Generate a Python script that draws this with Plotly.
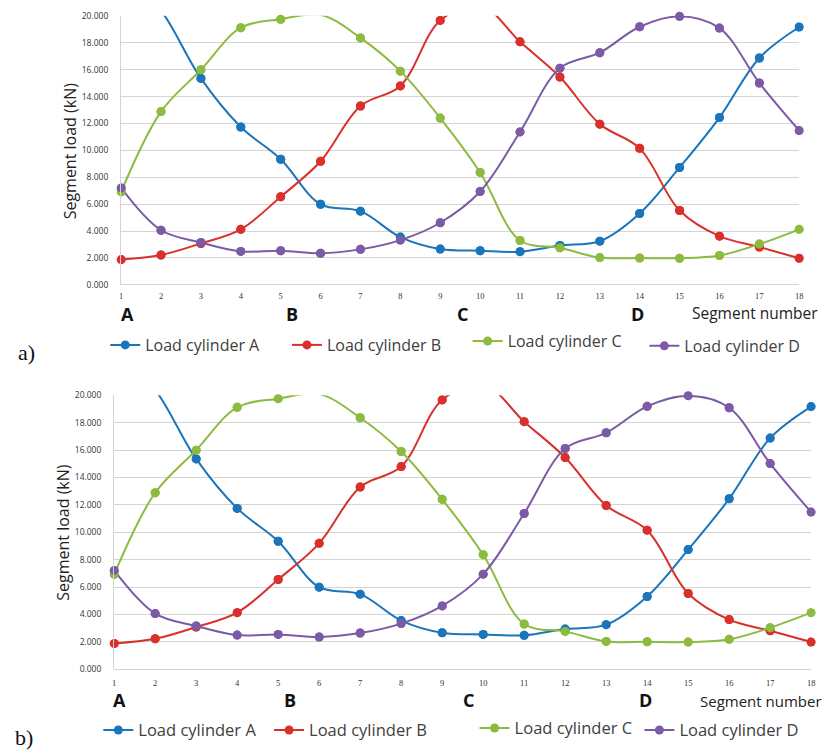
import plotly.graph_objects as go

segments = list(range(1, 19))
load_a = [23.5, 20.4, 15.35, 11.74, 9.34, 5.99, 5.48, 3.55, 2.66, 2.54, 2.47, 2.93, 3.25, 5.31, 8.73, 12.44, 16.87, 19.17]
load_b = [1.88, 2.22, 3.08, 4.13, 6.55, 9.19, 13.30, 14.79, 19.66, 20.8, 18.07, 15.45, 11.95, 10.15, 5.53, 3.62, 2.81, 1.98]
load_c = [6.92, 12.88, 15.99, 19.12, 19.75, 20.08, 18.36, 15.89, 12.40, 8.36, 3.30, 2.76, 2.03, 2.00, 1.98, 2.18, 3.03, 4.13]
load_d = [7.21, 4.06, 3.15, 2.49, 2.54, 2.35, 2.64, 3.33, 4.62, 6.94, 11.37, 16.11, 17.26, 19.19, 19.97, 19.09, 15.01, 11.47]
series_names = ["Load cylinder A", "Load cylinder B", "Load cylinder C", "Load cylinder D"]
y_ticks = [0, 2, 4, 6, 8, 10, 12, 14, 16, 18, 20]
section_labels = ["A", "B", "C", "D"]

colors = ["#1B75BB", "#D9302C", "#8CBB3F", "#7B5BA5"]
W, H = 838, 755
FONT = "Open Sans"

fig = go.Figure()
all_series = [load_a, load_b, load_c, load_d]

panels = [
    # (xaxis, yaxis, left px, right px, top px, bottom px, tick standoff)
    ("x", "y", 120, 803, 10, 283, 5),
    ("x2", "y2", 113, 815, 395, 673, 7),
]
# legend item positions (icon start px, centre y px) for each panel
legend_pos = [
    [(115, 344), (298, 344), (480, 340), (658, 345)],
    [(108, 735), (280, 735), (487, 733), (653, 735)],
]

layout = dict(
    width=W, height=H,
    margin=dict(l=0, r=0, t=0, b=0),
    paper_bgcolor="white", plot_bgcolor="white",
    font=dict(family=FONT, color="#404040"),
)

lg_index = 1
for p, (xa, ya, *_rest) in enumerate(panels):
    for k, (name, vals, col) in enumerate(zip(series_names, all_series, colors)):
        lg = "legend" if lg_index == 1 else f"legend{lg_index}"
        fig.add_trace(go.Scatter(
            x=segments, y=vals, name=name, mode="lines+markers",
            line=dict(color=col, width=2, shape="spline", smoothing=1.0),
            marker=dict(color=col, size=9),
            xaxis=xa, yaxis=ya, legend=lg, cliponaxis=True,
        ))
        px, py = legend_pos[p][k]
        layout[lg] = dict(
            orientation="h", x=(px - 11) / W, xanchor="left",
            y=1 - py / H, yanchor="middle",
            font=dict(size=16 if p == 0 else 16.5, family=FONT, color="#404040"),
            bgcolor="rgba(0,0,0,0)", borderwidth=0,
        )
        lg_index += 1
    for name, vals, col in zip(series_names, all_series, colors):
        vis = [v if v <= 20.0 else None for v in vals]
        fig.add_trace(go.Scatter(
            x=segments, y=vis, mode="markers", showlegend=False,
            marker=dict(color=col, size=9),
            xaxis=xa, yaxis=ya, cliponaxis=False, hoverinfo="skip",
        ))

def xd(l, r):
    return [l / W, r / W]

def yd(t, b):
    return [1 - b / H, 1 - t / H]

for i, (xa, ya, l, r, t, b, so) in enumerate(panels):
    xk = "xaxis" if i == 0 else "xaxis2"
    yk = "yaxis" if i == 0 else "yaxis2"
    layout[xk] = dict(
        domain=xd(l, r), range=[1, 18], tickvals=segments,
        showgrid=False, zeroline=False, showline=False,
        tickfont=dict(size=8.5, color="#333333", family="Liberation Serif"),
        ticklabelstandoff=so, anchor=ya,
    )
    layout[yk] = dict(
        domain=yd(t, b), range=[0, 20], tickvals=y_ticks, tickformat=".3f",
        showgrid=True, gridcolor="#D4D4D4", gridwidth=1.3,
        zeroline=True, zerolinecolor="#D4D4D4", zerolinewidth=1.3,
        showline=True, linecolor="#D4D4D4", linewidth=1.3,
        tickfont=dict(size=8.5, color="#333333", family=FONT),
        ticklabelstandoff=10, anchor=xa,
    )

ann = []
letter_pos = [
    [126, 292, 464, 640],
    [118, 290, 470, 648],
]
letter_y = [313, 704]
segnum = [(693, 312, 15.5), (701, 705, 15)]
ytitle = [(68, 147), (62, 534)]
panel_tag = [("a)", 25, 352), ("b)", 22, 742)]

for i in range(2):
    for lab, px in zip(section_labels, letter_pos[i]):
        ann.append(dict(text="<b>" + lab + "</b>", x=px / W, y=1 - letter_y[i] / H,
                        xref="paper", yref="paper", xanchor="center", yanchor="middle",
                        showarrow=False,
                        font=dict(size=18, family=FONT, color="#111111")))
    sx, sy, ss = segnum[i]
    ann.append(dict(text="Segment number", x=sx / W, y=1 - sy / H,
                    xref="paper", yref="paper", xanchor="left", yanchor="middle",
                    showarrow=False,
                    font=dict(size=ss, family=FONT, color="#222222")))
    ann.append(dict(text="Segment load (kN)", x=ytitle[i][0] / W, y=1 - ytitle[i][1] / H,
                    xref="paper", yref="paper", xanchor="center", yanchor="middle",
                    textangle=-90, showarrow=False,
                    font=dict(size=16, family=FONT, color="#222222")))
    tag, tx, ty = panel_tag[i]
    ann.append(dict(text=tag, x=tx / W, y=1 - ty / H, xref="paper", yref="paper",
                    xanchor="center", yanchor="middle", showarrow=False,
                    font=dict(size=22, family="Liberation Serif", color="#111111")))

layout["annotations"] = ann
fig.update_layout(**layout)

fig.write_html(
    "out.html",
    config={"displayModeBar": False},
    post_script="document.body.style.margin='0';document.body.style.overflow='hidden';",
)
